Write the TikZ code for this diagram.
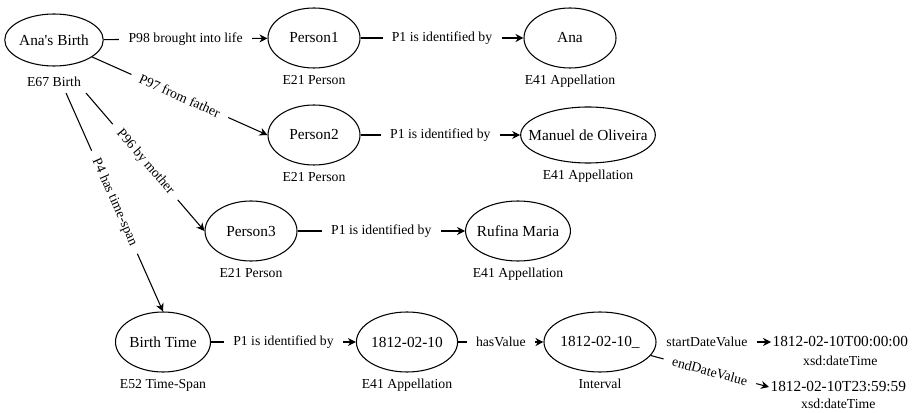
\documentclass[tikz,border=0pt]{standalone}
\usepackage{fontspec}
\setmainfont{Liberation Serif}
\usepackage{tikz}
\usetikzlibrary{shapes.geometric}
\usetikzlibrary{arrows.meta}
\usetikzlibrary{positioning}
\tikzset{
  entity/.style={draw,ellipse,line width=0.8pt,minimum width=69pt,minimum height=45pt,inner sep=0pt,font=\fontsize{11.5}{13}\selectfont},
  kind/.style={inner sep=2pt,font=\fontsize{10.3}{12}\selectfont},
  value/.style={inner sep=1pt,font=\fontsize{11.5}{13}\selectfont},
  rel/.style={line width=0.8pt,-{Stealth[length=6pt,width=6pt]}},
  rellabel/.style={fill=white,inner xsep=7pt,inner ysep=1pt,font=\fontsize{10.3}{12}\selectfont},
}

\begin{document}
\begin{tikzpicture}[x=0.75pt,y=-0.75pt]
\useasboundingbox (0,0) rectangle (923,413);
\node[entity,minimum height=39pt] (birth) at (54,40) {Ana\textquotesingle s Birth};
\node[kind,below=6pt of birth] (birthkind) {E67 Birth};
\node[entity] (person1) at (314,38) {Person1};
\node[kind,below=3pt of person1] (person1kind) {E21 Person};
\node[entity] (ana) at (570,38) {Ana};
\node[kind,below=3pt of ana] (anakind) {E41 Appellation};
\node[entity] (person2) at (314,135) {Person2};
\node[kind,below=3pt of person2] (person2kind) {E21 Person};
\node[entity,minimum width=97pt,minimum height=42pt,inner xsep=-9pt] (manuel) at (588,135) {Manuel de Oliveira};
\node[kind,below=3pt of manuel] (manuelkind) {E41 Appellation};
\node[entity] (person3) at (251,231) {Person3};
\node[kind,below=3pt of person3] (person3kind) {E21 Person};
\node[entity,minimum width=76pt,inner xsep=-3pt] (rufina) at (518,231) {Rufina Maria};
\node[kind,below=3pt of rufina] (rufinakind) {E41 Appellation};
\node[entity] (birthtime) at (163,342) {Birth Time};
\node[kind,below=3pt of birthtime] (birthtimekind) {E52 Time-Span};
\node[entity] (date) at (407,342) {1812-02-10};
\node[kind,below=3pt of date] (datekind) {E41 Appellation};
\node[entity] (interval) at (600,342) {1812-02-10\_};
\node[kind,below=3pt of interval] (intervalkind) {Interval};
\node[value,anchor=west] (startvalue) at (771,342) {1812-02-10T00:00:00};
\node[kind,below=3pt of startvalue] (startkind) {xsd:dateTime};
\node[value,anchor=west] (endvalue) at (769,387) {1812-02-10T23:59:59};
\node[kind,below=2pt of endvalue] (endkind) {xsd:dateTime};
\coordinate (p4start) at (66,93);
\coordinate (p96start) at (86,93);
\draw[rel] (birth) -- node[rellabel] {P98 brought into life} (person1);
\draw[rel] (birth) -- node[rellabel,sloped] {P97 from father} (person2.west);
\draw[rel] (p96start) -- node[rellabel,sloped] {P96 by mother} (person3.west);
\draw[rel] (p4start) -- node[rellabel,sloped] {P4 has time-span} (birthtime.north);
\draw[rel] (person1) -- node[rellabel] {P1 is identified by} (ana);
\draw[rel] (person2) -- node[rellabel] {P1 is identified by} (manuel);
\draw[rel] (person3) -- node[rellabel] {P1 is identified by} (rufina);
\draw[rel] (birthtime) -- node[rellabel] {P1 is identified by} (date);
\draw[rel] (date) -- node[rellabel] {hasValue} (interval);
\draw[rel] (interval) -- node[rellabel,pos=0.44] {startDateValue} (startvalue);
\draw[rel] (interval) -- node[rellabel,sloped] {endDateValue} (endvalue.west);
\end{tikzpicture}
\end{document}
